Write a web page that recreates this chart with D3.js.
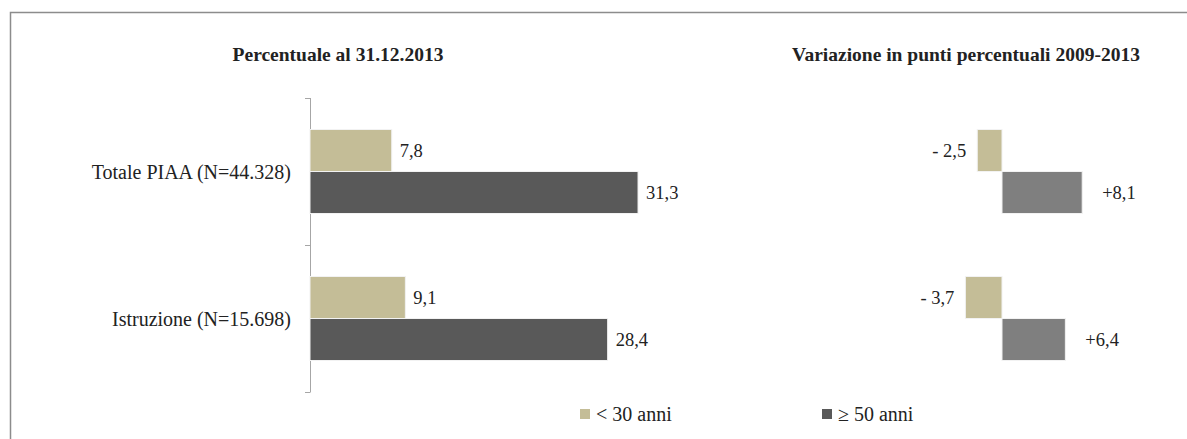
<!DOCTYPE html>
<html>
<head>
<meta charset="utf-8">
<script src="https://cdn.jsdelivr.net/npm/d3@7"></script>
<style>
  body { margin: 0; background: #fff; }
  svg text { font-family: "Liberation Serif", "Times New Roman", Times, serif; fill: #222; }
</style>
</head>
<body>
<div id="chart"></div>
<script>
var w = 1187, h = 439;

// Data
var categories = ["Totale PIAA (N=44.328)", "Istruzione (N=15.698)"];
var series = ["< 30 anni", "≥ 50 anni"];
var share2013 = [[7.8, 31.3], [9.1, 28.4]];
var shareLabels = [["7,8", "31,3"], ["9,1", "28,4"]];
var change0913 = [[-2.5, 8.1], [-3.7, 6.4]];
var changeLabels = [["- 2,5", "+8,1"], ["- 3,7", "+6,4"]];
var titles = ["Percentuale al 31.12.2013", "Variazione in punti percentuali 2009-2013"];

var colorLeft = ["#c4bd97", "#595959"];
var colorRight = ["#c4bd97", "#7f7f7f"];

var svg = d3.select("#chart")
  .append("svg")
  .attr("width", w)
  .attr("height", h)
  .style("display", "block");

// Frame
svg.append("rect")
  .attr("x", 10.5).attr("y", 12.5)
  .attr("width", w).attr("height", h)
  .attr("fill", "none")
  .attr("stroke", "#8c8c8c")
  .attr("stroke-width", 1.5);

// Scales
var y = d3.scaleBand()
  .domain(categories)
  .range([98, 392]);

var ySub = d3.scaleBand()
  .domain(d3.range(series.length))
  .range([0, y.bandwidth()])
  .paddingOuter(0.75);

var xLeft = d3.scaleLinear()
  .domain([0, 35])
  .range([310, 310 + 35 * 10.48]);

var xRight = d3.scaleLinear()
  .domain([-5, 10])
  .range([1002 - 5 * 9.9, 1002 + 10 * 9.9]);

// Titles
svg.selectAll(".title")
  .data(titles)
  .enter()
  .append("text")
  .attr("x", function(d, i) { return i == 0 ? 338 : 966; })
  .attr("y", 61)
  .attr("text-anchor", "middle")
  .style("font-size", "19.5px")
  .style("font-weight", "bold")
  .text(function(d) { return d; });

// Left axis (category boundaries)
var axisG = svg.append("g").attr("stroke", "#a6a6a6").attr("stroke-width", 1);
axisG.append("line")
  .attr("x1", 310.5).attr("x2", 310.5)
  .attr("y1", y.range()[0]).attr("y2", y.range()[1]);
var bounds = categories.map(function(c) { return y(c); }).concat([y.range()[1]]);
axisG.selectAll(".tick")
  .data(bounds)
  .enter()
  .append("line")
  .attr("x1", 305).attr("x2", 310.5)
  .attr("y1", function(d) { return d + 0.5; })
  .attr("y2", function(d) { return d + 0.5; });

// Category labels
svg.selectAll(".cat")
  .data(categories)
  .enter()
  .append("text")
  .attr("x", 291)
  .attr("y", function(d) { return y(d) + y.bandwidth() / 2; })
  .attr("dy", "0.35em")
  .attr("text-anchor", "end")
  .style("font-size", "20px")
  .text(function(d) { return d; });

// Flatten data
var leftBars = [], rightBars = [];
categories.forEach(function(c, i) {
  series.forEach(function(s, j) {
    leftBars.push({ cat: c, s: j, value: share2013[i][j], label: shareLabels[i][j] });
    rightBars.push({ cat: c, s: j, value: change0913[i][j], label: changeLabels[i][j] });
  });
});

// Left bars
svg.selectAll(".barL")
  .data(leftBars)
  .enter()
  .append("rect")
  .attr("x", xLeft(0))
  .attr("y", function(d) { return y(d.cat) + ySub(d.s); })
  .attr("width", function(d) { return xLeft(d.value) - xLeft(0); })
  .attr("height", ySub.bandwidth())
  .attr("fill", function(d) { return colorLeft[d.s]; })
  .attr("stroke", "#f2f2f2")
  .attr("stroke-width", 1);

svg.selectAll(".lblL")
  .data(leftBars)
  .enter()
  .append("text")
  .attr("x", function(d) { return xLeft(d.value) + 8; })
  .attr("y", function(d) { return y(d.cat) + ySub(d.s) + ySub.bandwidth() / 2; })
  .attr("dy", "0.35em")
  .style("font-size", "18.5px")
  .text(function(d) { return d.label; });

// Right bars
svg.selectAll(".barR")
  .data(rightBars)
  .enter()
  .append("rect")
  .attr("x", function(d) { return xRight(Math.min(0, d.value)); })
  .attr("y", function(d) { return y(d.cat) + ySub(d.s); })
  .attr("width", function(d) { return Math.abs(xRight(d.value) - xRight(0)); })
  .attr("height", ySub.bandwidth())
  .attr("fill", function(d) { return colorRight[d.s]; })
  .attr("stroke", "#f2f2f2")
  .attr("stroke-width", 1);

svg.selectAll(".lblR")
  .data(rightBars)
  .enter()
  .append("text")
  .attr("x", function(d) { return d.value < 0 ? xRight(d.value) - 11 : xRight(d.value) + 20; })
  .attr("y", function(d) { return y(d.cat) + ySub(d.s) + ySub.bandwidth() / 2; })
  .attr("dy", "0.35em")
  .attr("text-anchor", function(d) { return d.value < 0 ? "end" : "start"; })
  .style("font-size", "18.5px")
  .text(function(d) { return d.label; });

// Legend
var legend = svg.selectAll(".legend")
  .data(series)
  .enter()
  .append("g")
  .attr("transform", function(d, i) { return "translate(" + (i == 0 ? 580 : 822) + ",409)"; });

legend.append("rect")
  .attr("width", 10).attr("height", 10)
  .attr("fill", function(d, i) { return colorLeft[i]; });

legend.append("text")
  .attr("x", 16)
  .attr("y", 5)
  .attr("dy", "0.35em")
  .style("font-size", "20px")
  .text(function(d) { return d; });
</script>
</body>
</html>
